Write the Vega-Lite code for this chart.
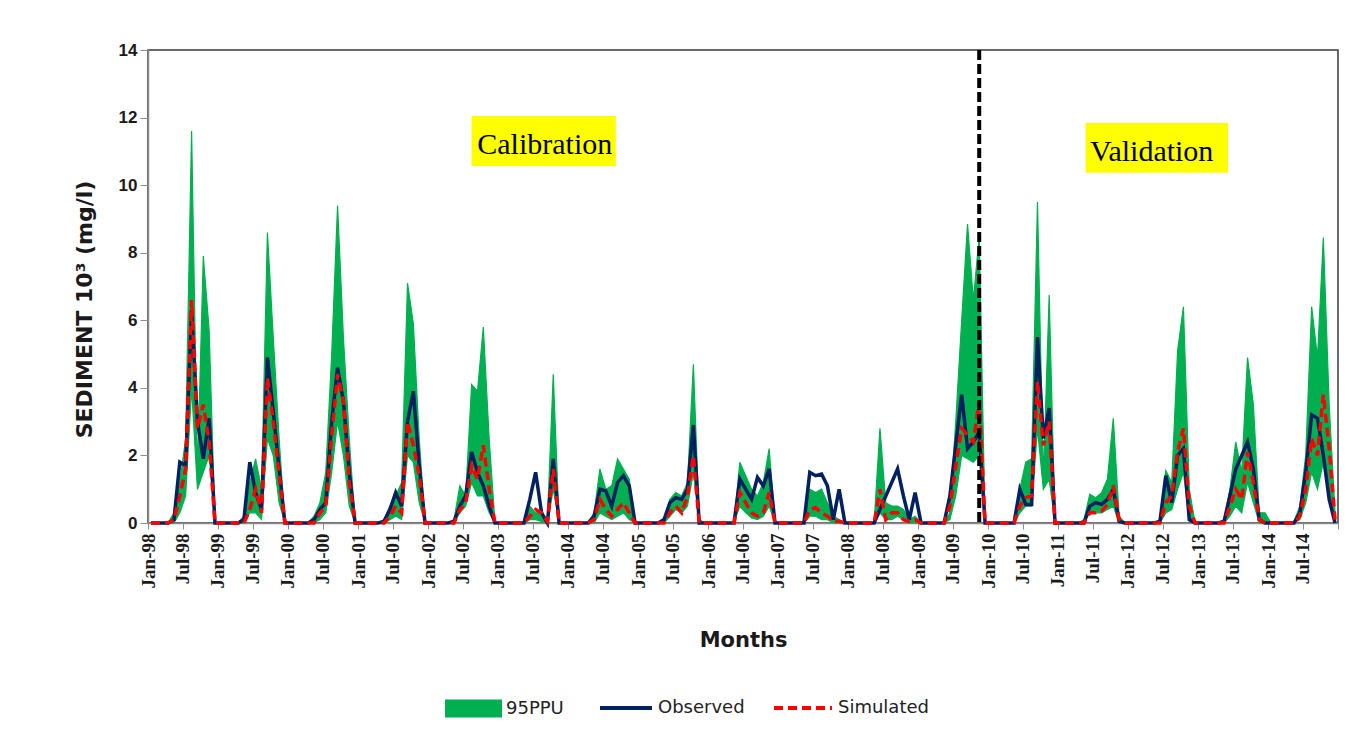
{
  "$schema": "https://vega.github.io/schema/vega-lite/v6.json",
  "width": 1190,
  "height": 473,
  "autosize": {"type": "none"},
  "padding": {"left": 148, "top": 50, "right": 26, "bottom": 224},
  "background": "white",
  "config": {
    "view": {"stroke": "#3a3a3a", "strokeWidth": 1.5},
    "axis": {"grid": false, "domainColor": "#8c8c8c", "tickColor": "#8c8c8c", "domainWidth": 1.5, "labelColor": "#1a1a1a", "titleColor": "#1a1a1a"},
    "legend": {"orient": "none", "title": null, "padding": 0, "labelFont": "DejaVu Sans", "labelFontSize": 18, "labelColor": "#222222", "labelOffset": 4, "symbolStrokeWidth": 4, "symbolOpacity": 1}
  },
  "datasets": {
    "series": [
      {"month":"1998-01","upper":0,"lower":0,"observed":0,"simulated":0},
      {"month":"1998-02","upper":0,"lower":0,"observed":0,"simulated":0},
      {"month":"1998-03","upper":0,"lower":0,"observed":0,"simulated":0},
      {"month":"1998-04","upper":0,"lower":0,"observed":0,"simulated":0},
      {"month":"1998-05","upper":0.3,"lower":0,"observed":0.1,"simulated":0.1},
      {"month":"1998-06","upper":1.2,"lower":0.3,"observed":1.8,"simulated":0.8},
      {"month":"1998-07","upper":2.5,"lower":0.8,"observed":1.7,"simulated":1.6},
      {"month":"1998-08","upper":11.6,"lower":4.0,"observed":6.3,"simulated":6.6},
      {"month":"1998-09","upper":1.5,"lower":1.0,"observed":3.0,"simulated":2.8},
      {"month":"1998-10","upper":7.9,"lower":1.5,"observed":1.9,"simulated":3.5},
      {"month":"1998-11","upper":5.7,"lower":2.0,"observed":3.1,"simulated":2.4},
      {"month":"1998-12","upper":0,"lower":0,"observed":0,"simulated":0},
      {"month":"1999-01","upper":0,"lower":0,"observed":0,"simulated":0},
      {"month":"1999-02","upper":0,"lower":0,"observed":0,"simulated":0},
      {"month":"1999-03","upper":0,"lower":0,"observed":0,"simulated":0},
      {"month":"1999-04","upper":0,"lower":0,"observed":0,"simulated":0},
      {"month":"1999-05","upper":0.2,"lower":0,"observed":0.1,"simulated":0},
      {"month":"1999-06","upper":1.2,"lower":0.3,"observed":1.8,"simulated":0.4},
      {"month":"1999-07","upper":1.9,"lower":0.3,"observed":0.9,"simulated":1.0},
      {"month":"1999-08","upper":1.0,"lower":0.1,"observed":0.4,"simulated":0.3},
      {"month":"1999-09","upper":8.6,"lower":2.5,"observed":4.9,"simulated":4.3},
      {"month":"1999-10","upper":5.5,"lower":2.0,"observed":3.3,"simulated":3.0},
      {"month":"1999-11","upper":2.5,"lower":0.6,"observed":1.6,"simulated":1.4},
      {"month":"1999-12","upper":0,"lower":0,"observed":0,"simulated":0},
      {"month":"2000-01","upper":0,"lower":0,"observed":0,"simulated":0},
      {"month":"2000-02","upper":0,"lower":0,"observed":0,"simulated":0},
      {"month":"2000-03","upper":0,"lower":0,"observed":0,"simulated":0},
      {"month":"2000-04","upper":0,"lower":0,"observed":0,"simulated":0},
      {"month":"2000-05","upper":0.2,"lower":0,"observed":0.1,"simulated":0},
      {"month":"2000-06","upper":0.6,"lower":0.1,"observed":0.4,"simulated":0.3},
      {"month":"2000-07","upper":1.5,"lower":0.3,"observed":0.6,"simulated":0.5},
      {"month":"2000-08","upper":5.0,"lower":1.5,"observed":3.0,"simulated":2.6},
      {"month":"2000-09","upper":9.4,"lower":3.0,"observed":4.6,"simulated":4.4},
      {"month":"2000-10","upper":5.5,"lower":2.0,"observed":3.6,"simulated":3.6},
      {"month":"2000-11","upper":2.5,"lower":0.5,"observed":1.5,"simulated":1.2},
      {"month":"2000-12","upper":0,"lower":0,"observed":0,"simulated":0},
      {"month":"2001-01","upper":0,"lower":0,"observed":0,"simulated":0},
      {"month":"2001-02","upper":0,"lower":0,"observed":0,"simulated":0},
      {"month":"2001-03","upper":0,"lower":0,"observed":0,"simulated":0},
      {"month":"2001-04","upper":0,"lower":0,"observed":0,"simulated":0},
      {"month":"2001-05","upper":0.1,"lower":0,"observed":0.05,"simulated":0},
      {"month":"2001-06","upper":0.5,"lower":0.1,"observed":0.4,"simulated":0.2},
      {"month":"2001-07","upper":0.8,"lower":0.2,"observed":0.9,"simulated":0.5},
      {"month":"2001-08","upper":1.2,"lower":0.1,"observed":0.5,"simulated":0.3},
      {"month":"2001-09","upper":7.1,"lower":2.0,"observed":3.0,"simulated":3.0},
      {"month":"2001-10","upper":5.9,"lower":1.8,"observed":3.9,"simulated":2.3},
      {"month":"2001-11","upper":2.5,"lower":0.6,"observed":1.7,"simulated":1.4},
      {"month":"2001-12","upper":0,"lower":0,"observed":0,"simulated":0},
      {"month":"2002-01","upper":0,"lower":0,"observed":0,"simulated":0},
      {"month":"2002-02","upper":0,"lower":0,"observed":0,"simulated":0},
      {"month":"2002-03","upper":0,"lower":0,"observed":0,"simulated":0},
      {"month":"2002-04","upper":0,"lower":0,"observed":0,"simulated":0},
      {"month":"2002-05","upper":0.1,"lower":0,"observed":0.05,"simulated":0},
      {"month":"2002-06","upper":1.1,"lower":0.3,"observed":0.5,"simulated":0.4},
      {"month":"2002-07","upper":0.8,"lower":0.5,"observed":0.8,"simulated":0.6},
      {"month":"2002-08","upper":4.1,"lower":1.2,"observed":2.1,"simulated":1.7},
      {"month":"2002-09","upper":3.9,"lower":0.8,"observed":1.5,"simulated":1.3},
      {"month":"2002-10","upper":5.8,"lower":0.8,"observed":1.1,"simulated":2.3},
      {"month":"2002-11","upper":2.5,"lower":0.3,"observed":0.5,"simulated":1.0},
      {"month":"2002-12","upper":0,"lower":0,"observed":0,"simulated":0},
      {"month":"2003-01","upper":0,"lower":0,"observed":0,"simulated":0},
      {"month":"2003-02","upper":0,"lower":0,"observed":0,"simulated":0},
      {"month":"2003-03","upper":0,"lower":0,"observed":0,"simulated":0},
      {"month":"2003-04","upper":0,"lower":0,"observed":0,"simulated":0},
      {"month":"2003-05","upper":0,"lower":0,"observed":0,"simulated":0},
      {"month":"2003-06","upper":0.5,"lower":0.1,"observed":0.7,"simulated":0.2},
      {"month":"2003-07","upper":0.3,"lower":0.1,"observed":1.5,"simulated":0.4},
      {"month":"2003-08","upper":0.3,"lower":0.05,"observed":0.3,"simulated":0.3},
      {"month":"2003-09","upper":0.1,"lower":0,"observed":0,"simulated":0.05},
      {"month":"2003-10","upper":4.4,"lower":1.0,"observed":1.9,"simulated":1.6},
      {"month":"2003-11","upper":0,"lower":0,"observed":0,"simulated":0},
      {"month":"2003-12","upper":0,"lower":0,"observed":0,"simulated":0},
      {"month":"2004-01","upper":0,"lower":0,"observed":0,"simulated":0},
      {"month":"2004-02","upper":0,"lower":0,"observed":0,"simulated":0},
      {"month":"2004-03","upper":0,"lower":0,"observed":0,"simulated":0},
      {"month":"2004-04","upper":0,"lower":0,"observed":0,"simulated":0},
      {"month":"2004-05","upper":0.3,"lower":0,"observed":0.2,"simulated":0.1},
      {"month":"2004-06","upper":1.6,"lower":0.3,"observed":1.0,"simulated":0.7},
      {"month":"2004-07","upper":1.0,"lower":0.2,"observed":0.95,"simulated":0.4},
      {"month":"2004-08","upper":1.1,"lower":0.1,"observed":0.5,"simulated":0.2},
      {"month":"2004-09","upper":1.9,"lower":0.2,"observed":1.2,"simulated":0.4},
      {"month":"2004-10","upper":1.6,"lower":0.3,"observed":1.4,"simulated":0.6},
      {"month":"2004-11","upper":1.3,"lower":0.1,"observed":1.1,"simulated":0.3},
      {"month":"2004-12","upper":0,"lower":0,"observed":0,"simulated":0},
      {"month":"2005-01","upper":0,"lower":0,"observed":0,"simulated":0},
      {"month":"2005-02","upper":0,"lower":0,"observed":0,"simulated":0},
      {"month":"2005-03","upper":0,"lower":0,"observed":0,"simulated":0},
      {"month":"2005-04","upper":0,"lower":0,"observed":0,"simulated":0},
      {"month":"2005-05","upper":0.1,"lower":0,"observed":0.1,"simulated":0},
      {"month":"2005-06","upper":0.7,"lower":0.2,"observed":0.6,"simulated":0.3},
      {"month":"2005-07","upper":0.9,"lower":0.4,"observed":0.75,"simulated":0.5},
      {"month":"2005-08","upper":0.8,"lower":0.3,"observed":0.7,"simulated":0.3},
      {"month":"2005-09","upper":1.2,"lower":0.5,"observed":1.0,"simulated":0.8},
      {"month":"2005-10","upper":4.7,"lower":1.5,"observed":2.9,"simulated":2.0},
      {"month":"2005-11","upper":0.1,"lower":0,"observed":0,"simulated":0},
      {"month":"2005-12","upper":0,"lower":0,"observed":0,"simulated":0},
      {"month":"2006-01","upper":0,"lower":0,"observed":0,"simulated":0},
      {"month":"2006-02","upper":0,"lower":0,"observed":0,"simulated":0},
      {"month":"2006-03","upper":0,"lower":0,"observed":0,"simulated":0},
      {"month":"2006-04","upper":0,"lower":0,"observed":0,"simulated":0},
      {"month":"2006-05","upper":0,"lower":0,"observed":0,"simulated":0},
      {"month":"2006-06","upper":1.8,"lower":0.5,"observed":1.3,"simulated":0.9},
      {"month":"2006-07","upper":1.4,"lower":0.3,"observed":1.0,"simulated":0.6},
      {"month":"2006-08","upper":1.0,"lower":0.15,"observed":0.7,"simulated":0.3},
      {"month":"2006-09","upper":0.8,"lower":0.1,"observed":1.35,"simulated":0.2},
      {"month":"2006-10","upper":1.2,"lower":0.2,"observed":1.1,"simulated":0.3},
      {"month":"2006-11","upper":2.2,"lower":0.5,"observed":1.6,"simulated":0.9},
      {"month":"2006-12","upper":0,"lower":0,"observed":0,"simulated":0},
      {"month":"2007-01","upper":0,"lower":0,"observed":0,"simulated":0},
      {"month":"2007-02","upper":0,"lower":0,"observed":0,"simulated":0},
      {"month":"2007-03","upper":0,"lower":0,"observed":0,"simulated":0},
      {"month":"2007-04","upper":0,"lower":0,"observed":0,"simulated":0},
      {"month":"2007-05","upper":0,"lower":0,"observed":0,"simulated":0},
      {"month":"2007-06","upper":1.0,"lower":0.2,"observed":1.5,"simulated":0.4},
      {"month":"2007-07","upper":0.9,"lower":0.2,"observed":1.4,"simulated":0.45},
      {"month":"2007-08","upper":1.0,"lower":0.1,"observed":1.45,"simulated":0.3},
      {"month":"2007-09","upper":0.6,"lower":0.1,"observed":1.1,"simulated":0.2},
      {"month":"2007-10","upper":0.2,"lower":0,"observed":0.1,"simulated":0.05},
      {"month":"2007-11","upper":0.1,"lower":0,"observed":1.0,"simulated":0.05},
      {"month":"2007-12","upper":0,"lower":0,"observed":0,"simulated":0},
      {"month":"2008-01","upper":0,"lower":0,"observed":0,"simulated":0},
      {"month":"2008-02","upper":0,"lower":0,"observed":0,"simulated":0},
      {"month":"2008-03","upper":0,"lower":0,"observed":0,"simulated":0},
      {"month":"2008-04","upper":0,"lower":0,"observed":0,"simulated":0},
      {"month":"2008-05","upper":0,"lower":0,"observed":0,"simulated":0},
      {"month":"2008-06","upper":2.8,"lower":0.3,"observed":0.4,"simulated":1.0},
      {"month":"2008-07","upper":0.6,"lower":0.1,"observed":0.8,"simulated":0.1},
      {"month":"2008-08","upper":0.5,"lower":0.1,"observed":1.2,"simulated":0.3},
      {"month":"2008-09","upper":0.5,"lower":0.2,"observed":1.6,"simulated":0.3},
      {"month":"2008-10","upper":0.4,"lower":0.1,"observed":0.8,"simulated":0.1},
      {"month":"2008-11","upper":0.1,"lower":0,"observed":0.1,"simulated":0.05},
      {"month":"2008-12","upper":0.2,"lower":0,"observed":0.9,"simulated":0.1},
      {"month":"2009-01","upper":0,"lower":0,"observed":0,"simulated":0},
      {"month":"2009-02","upper":0,"lower":0,"observed":0,"simulated":0},
      {"month":"2009-03","upper":0,"lower":0,"observed":0,"simulated":0},
      {"month":"2009-04","upper":0,"lower":0,"observed":0,"simulated":0},
      {"month":"2009-05","upper":0,"lower":0,"observed":0,"simulated":0},
      {"month":"2009-06","upper":0.3,"lower":0.1,"observed":0.8,"simulated":0.5},
      {"month":"2009-07","upper":3.0,"lower":0.8,"observed":2.3,"simulated":1.7},
      {"month":"2009-08","upper":6.0,"lower":2.0,"observed":3.8,"simulated":2.8},
      {"month":"2009-09","upper":8.85,"lower":1.9,"observed":2.2,"simulated":2.6},
      {"month":"2009-10","upper":6.6,"lower":1.8,"observed":2.4,"simulated":2.4},
      {"month":"2009-11","upper":8.5,"lower":2.0,"observed":2.7,"simulated":3.6},
      {"month":"2009-12","upper":0,"lower":0,"observed":0,"simulated":0},
      {"month":"2010-01","upper":0,"lower":0,"observed":0,"simulated":0},
      {"month":"2010-02","upper":0,"lower":0,"observed":0,"simulated":0},
      {"month":"2010-03","upper":0,"lower":0,"observed":0,"simulated":0},
      {"month":"2010-04","upper":0,"lower":0,"observed":0,"simulated":0},
      {"month":"2010-05","upper":0,"lower":0,"observed":0,"simulated":0},
      {"month":"2010-06","upper":1.0,"lower":0.3,"observed":1.0,"simulated":0.5},
      {"month":"2010-07","upper":1.8,"lower":0.5,"observed":0.55,"simulated":0.75},
      {"month":"2010-08","upper":1.9,"lower":0.5,"observed":0.55,"simulated":0.8},
      {"month":"2010-09","upper":9.5,"lower":2.8,"observed":5.5,"simulated":4.2},
      {"month":"2010-10","upper":1.3,"lower":1.0,"observed":2.5,"simulated":2.3},
      {"month":"2010-11","upper":6.75,"lower":1.3,"observed":3.4,"simulated":3.0},
      {"month":"2010-12","upper":0,"lower":0,"observed":0,"simulated":0},
      {"month":"2011-01","upper":0,"lower":0,"observed":0,"simulated":0},
      {"month":"2011-02","upper":0,"lower":0,"observed":0,"simulated":0},
      {"month":"2011-03","upper":0,"lower":0,"observed":0,"simulated":0},
      {"month":"2011-04","upper":0,"lower":0,"observed":0,"simulated":0},
      {"month":"2011-05","upper":0.1,"lower":0,"observed":0,"simulated":0},
      {"month":"2011-06","upper":0.85,"lower":0.3,"observed":0.5,"simulated":0.3},
      {"month":"2011-07","upper":0.75,"lower":0.3,"observed":0.6,"simulated":0.3},
      {"month":"2011-08","upper":0.9,"lower":0.3,"observed":0.55,"simulated":0.35},
      {"month":"2011-09","upper":1.3,"lower":0.4,"observed":0.7,"simulated":0.55},
      {"month":"2011-10","upper":3.1,"lower":0.5,"observed":1.0,"simulated":1.1},
      {"month":"2011-11","upper":0.2,"lower":0,"observed":0.05,"simulated":0.1},
      {"month":"2011-12","upper":0,"lower":0,"observed":0,"simulated":0},
      {"month":"2012-01","upper":0,"lower":0,"observed":0,"simulated":0},
      {"month":"2012-02","upper":0,"lower":0,"observed":0,"simulated":0},
      {"month":"2012-03","upper":0,"lower":0,"observed":0,"simulated":0},
      {"month":"2012-04","upper":0,"lower":0,"observed":0,"simulated":0},
      {"month":"2012-05","upper":0,"lower":0,"observed":0,"simulated":0},
      {"month":"2012-06","upper":0.1,"lower":0,"observed":0.05,"simulated":0},
      {"month":"2012-07","upper":1.55,"lower":0.3,"observed":1.4,"simulated":0.6},
      {"month":"2012-08","upper":1.2,"lower":0.4,"observed":0.6,"simulated":0.8},
      {"month":"2012-09","upper":5.1,"lower":1.0,"observed":2.0,"simulated":2.1},
      {"month":"2012-10","upper":6.4,"lower":1.5,"observed":2.2,"simulated":2.8},
      {"month":"2012-11","upper":1.0,"lower":0.1,"observed":0.1,"simulated":0.5},
      {"month":"2012-12","upper":0,"lower":0,"observed":0,"simulated":0},
      {"month":"2013-01","upper":0,"lower":0,"observed":0,"simulated":0},
      {"month":"2013-02","upper":0,"lower":0,"observed":0,"simulated":0},
      {"month":"2013-03","upper":0,"lower":0,"observed":0,"simulated":0},
      {"month":"2013-04","upper":0,"lower":0,"observed":0,"simulated":0},
      {"month":"2013-05","upper":0.1,"lower":0,"observed":0.05,"simulated":0},
      {"month":"2013-06","upper":1.0,"lower":0.2,"observed":0.8,"simulated":0.5},
      {"month":"2013-07","upper":2.4,"lower":0.5,"observed":1.6,"simulated":1.0},
      {"month":"2013-08","upper":1.5,"lower":0.3,"observed":2.0,"simulated":0.7},
      {"month":"2013-09","upper":4.9,"lower":1.2,"observed":2.4,"simulated":2.1},
      {"month":"2013-10","upper":3.5,"lower":0.6,"observed":1.6,"simulated":1.2},
      {"month":"2013-11","upper":0.3,"lower":0,"observed":0.1,"simulated":0.1},
      {"month":"2013-12","upper":0.3,"lower":0,"observed":0,"simulated":0},
      {"month":"2014-01","upper":0,"lower":0,"observed":0,"simulated":0},
      {"month":"2014-02","upper":0,"lower":0,"observed":0,"simulated":0},
      {"month":"2014-03","upper":0,"lower":0,"observed":0,"simulated":0},
      {"month":"2014-04","upper":0,"lower":0,"observed":0,"simulated":0},
      {"month":"2014-05","upper":0.05,"lower":0,"observed":0,"simulated":0},
      {"month":"2014-06","upper":0.5,"lower":0.1,"observed":0.3,"simulated":0.2},
      {"month":"2014-07","upper":2.0,"lower":0.6,"observed":1.5,"simulated":1.0},
      {"month":"2014-08","upper":6.4,"lower":1.5,"observed":3.2,"simulated":2.5},
      {"month":"2014-09","upper":4.9,"lower":1.0,"observed":3.1,"simulated":2.0},
      {"month":"2014-10","upper":8.45,"lower":1.8,"observed":2.0,"simulated":3.8},
      {"month":"2014-11","upper":3.5,"lower":0.8,"observed":0.7,"simulated":2.2},
      {"month":"2014-12","upper":0.3,"lower":0,"observed":0,"simulated":0.1}
    ],
    "notes": [
      {"label": "Calibration", "start": "2002-08-16", "end": "2004-09-07", "low": 10.57, "high": 12.05, "mid": "2003-09-02", "base": 10.93},
      {"label": "Validation", "start": "2011-05-25", "end": "2013-06-06", "low": 10.37, "high": 11.84, "mid": "2012-05-04", "base": 10.72}
    ],
    "split": [
      {"month": "2009-11"}
    ]
  },
  "layer": [
    {
      "data": {"name": "series"},
      "mark": {"type": "area", "stroke": "#00B050", "strokeWidth": 1.2},
      "encoding": {
        "x": {
          "field": "month", "type": "temporal", "timeUnit": "utcyearmonth", "bandPosition": 0.5, "title": "Months",
          "scale": {"type": "utc", "domain": [{"year": 1998, "month": 1, "date": 1, "utc": true}, {"year": 2015, "month": 1, "date": 1, "utc": true}], "nice": false},
          "axis": {
            "tickCount": {"interval": "month", "step": 6},
            "labelExpr": "utcyear(datum.value) >= 2015 ? '' : utcFormat(datum.value, '%b-%y')",
            "labelAngle": -90, "labelFont": "Liberation Serif", "labelFontWeight": "bold", "labelFontSize": 19,
            "labelPadding": 4, "labelOverlap": false, "labelFlush": false, "tickSize": 6,
            "titleFont": "DejaVu Sans", "titleFontSize": 21, "titleFontWeight": "bold", "titlePadding": 42
          }
        },
        "y": {
          "field": "upper", "type": "quantitative", "title": "SEDIMENT 10³ (mg/l)",
          "scale": {"domain": [0, 14], "nice": false},
          "axis": {
            "values": [0, 2, 4, 6, 8, 10, 12, 14],
            "labelFont": "Liberation Sans", "labelFontWeight": "bold", "labelFontSize": 17, "tickSize": 8, "labelPadding": 3,
            "titleFont": "DejaVu Sans", "titleFontWeight": "bold", "titleFontSize": 22, "titlePadding": 22, "titleY": 259
          }
        },
        "y2": {"field": "lower"},
        "fill": {
          "datum": "95PPU", "type": "nominal",
          "scale": {"domain": ["95PPU"], "range": ["#00B050"]},
          "legend": {"legendX": 297, "legendY": 630, "symbolType": "M-1,-0.32H1V0.32H-1Z", "symbolSize": 3249, "symbolStrokeWidth": 0}
        }
      }
    },
    {
      "data": {"name": "series"},
      "mark": {"type": "line", "strokeWidth": 3.5},
      "encoding": {
        "x": {"field": "month", "type": "temporal", "timeUnit": "utcyearmonth", "bandPosition": 0.5, "title": "Months"},
        "y": {"field": "observed", "type": "quantitative", "title": "SEDIMENT 10³ (mg/l)"},
        "stroke": {
          "datum": "Observed", "type": "nominal",
          "scale": {"domain": ["Observed"], "range": ["#002060"]},
          "legend": {"legendX": 450, "legendY": 630, "symbolType": "stroke", "symbolSize": 2704, "symbolStrokeWidth": 4}
        }
      }
    },
    {
      "data": {"name": "series"},
      "mark": {"type": "line", "strokeWidth": 3.5, "color": "#FF0000"},
      "encoding": {
        "x": {"field": "month", "type": "temporal", "timeUnit": "utcyearmonth", "bandPosition": 0.5, "title": "Months"},
        "y": {"field": "simulated", "type": "quantitative", "title": "SEDIMENT 10³ (mg/l)"},
        "strokeDash": {
          "datum": "Simulated", "type": "nominal",
          "scale": {"domain": ["Simulated"], "range": [[9, 5]]},
          "legend": {"legendX": 624, "legendY": 627, "symbolType": "stroke", "symbolSize": 3364, "symbolStrokeWidth": 4, "symbolStrokeColor": "#FF0000"}
        }
      }
    },
    {
      "data": {"name": "split"},
      "mark": {"type": "rule", "color": "#000000", "strokeWidth": 4, "strokeDash": [10, 4]},
      "encoding": {
        "x": {"field": "month", "type": "temporal", "timeUnit": "utcyearmonth", "bandPosition": 0.5, "title": "Months"}
      }
    },
    {
      "data": {"name": "notes"},
      "mark": {"type": "rect", "color": "#FFFF00"},
      "encoding": {
        "x": {"field": "start", "type": "temporal", "title": "Months"},
        "x2": {"field": "end"},
        "y": {"field": "low", "type": "quantitative", "title": "SEDIMENT 10³ (mg/l)"},
        "y2": {"field": "high"}
      }
    },
    {
      "data": {"name": "notes"},
      "mark": {"type": "text", "font": "Liberation Serif", "fontSize": 30, "baseline": "alphabetic", "align": "center", "color": "#000000"},
      "encoding": {
        "x": {"field": "mid", "type": "temporal", "title": "Months"},
        "y": {"field": "base", "type": "quantitative", "title": "SEDIMENT 10³ (mg/l)"},
        "text": {"field": "label"}
      }
    }
  ]
}
